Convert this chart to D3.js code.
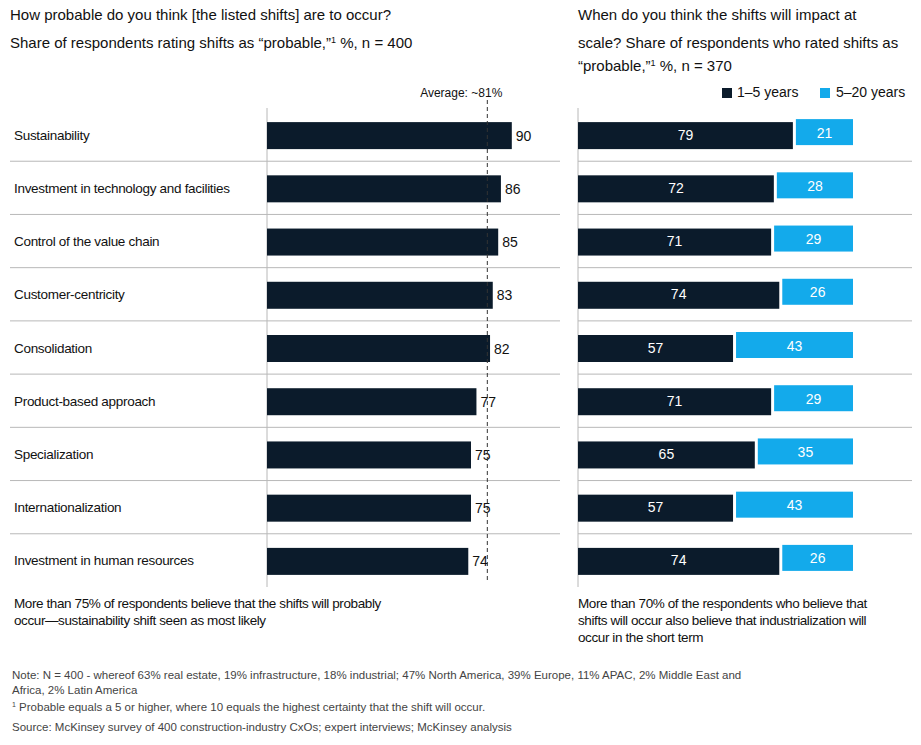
<!DOCTYPE html>
<html><head><meta charset="utf-8">
<script src="https://cdn.jsdelivr.net/npm/d3@7"></script>
<style>
body{margin:0;background:#fff;font-family:"Liberation Sans",Arial,sans-serif;}
text{fill:#111;}
</style></head>
<body><svg id="c" width="921" height="745"></svg>
<script>
const shifts = ['Sustainability','Investment in technology and facilities','Control of the value chain',
  'Customer-centricity','Consolidation','Product-based approach','Specialization',
  'Internationalization','Investment in human resources']
const probable = [90, 86, 85, 83, 82, 77, 75, 75, 74]
const shortTerm = [79, 72, 71, 74, 57, 71, 65, 57, 74]
const longTerm = [21, 28, 29, 26, 43, 29, 35, 43, 26]
const average = 81

const dark = '#0b1b2b', blue = '#13aaeb', grid = '#b8b8b8'
const svg = d3.select('#c')

const y = d3.scaleBand().domain(shifts).range([108, 587]).paddingInner(0).paddingOuter(0)
const barH = 27
const xL = d3.scaleLinear().domain([0, 100]).range([267, 539])
const xR = d3.scaleLinear().domain([0, 100]).range([578, 850])

// titles
const t = (x, yy, s, size) => svg.append('text').attr('x', x).attr('y', yy).attr('font-size', size || 15).text(s)
t(10, 20, 'How probable do you think [the listed shifts] are to occur?')
svg.append('text').attr('x', 10).attr('y', 48).attr('font-size', 15)
  .html('Share of respondents rating shifts as “probable,”<tspan font-size="9" dy="-5">1</tspan><tspan dy="5"> %, n = 400</tspan>')
t(578, 20, 'When do you think the shifts will impact at')
t(578, 48, 'scale? Share of respondents who rated shifts as')
svg.append('text').attr('x', 578).attr('y', 71).attr('font-size', 15)
  .html('“probable,”<tspan font-size="9" dy="-5">1</tspan><tspan dy="5"> %, n = 370</tspan>')

// separators
shifts.slice(1).forEach(s => {
  svg.append('line').attr('x1', 10).attr('x2', 560).attr('y1', y(s)).attr('y2', y(s)).attr('stroke', grid)
  svg.append('line').attr('x1', 578).attr('x2', 912).attr('y1', y(s)).attr('y2', y(s)).attr('stroke', grid)
})
svg.append('line').attr('x1', 267).attr('x2', 267).attr('y1', 108).attr('y2', 587).attr('stroke', grid)
svg.append('line').attr('x1', 578).attr('x2', 578).attr('y1', 108).attr('y2', 587).attr('stroke', grid)

// left bars
const cy = d => y(d) + y.bandwidth() / 2
svg.selectAll('.lb').data(shifts).join('rect')
  .attr('x', xL(0)).attr('y', d => cy(d) - barH / 2 + 1).attr('height', barH)
  .attr('width', (d, i) => xL(probable[i]) - xL(0)).attr('fill', dark)
svg.selectAll('.lv').data(shifts).join('text')
  .attr('x', (d, i) => xL(probable[i]) + 4).attr('y', d => cy(d) + 6).attr('font-size', 14)
  .text((d, i) => probable[i])
svg.selectAll('.ll').data(shifts).join('text')
  .attr('x', 14).attr('y', d => cy(d) + 5).attr('font-size', 13.5).attr('letter-spacing', -0.3).text(d => d)

// average line
svg.append('line').attr('x1', xL(average)).attr('x2', xL(average)).attr('y1', 100).attr('y2', 580)
  .attr('stroke', '#333').attr('stroke-dasharray', '4,3')
svg.append('text').attr('x', xL(average) + 15).attr('y', 97).attr('text-anchor', 'end').attr('font-size', 12).text('Average: ~81%')

// right stacked bars
svg.selectAll('.rd').data(shifts).join('rect')
  .attr('x', xR(0)).attr('y', d => cy(d) - barH / 2 + 1).attr('height', barH)
  .attr('width', (d, i) => xR(shortTerm[i]) - xR(0)).attr('fill', dark)
svg.selectAll('.rdv').data(shifts).join('text')
  .attr('x', (d, i) => (xR(0) + xR(shortTerm[i])) / 2).attr('y', d => cy(d) + 5).attr('text-anchor', 'middle')
  .attr('font-size', 14).style('fill', '#fff').text((d, i) => shortTerm[i])
svg.selectAll('.rb').data(shifts).join('rect')
  .attr('x', (d, i) => xR(shortTerm[i]) + 3).attr('y', d => cy(d) - barH / 2 - 2).attr('height', barH - 1)
  .attr('width', (d, i) => xR(longTerm[i]) - xR(0)).attr('fill', blue)
svg.selectAll('.rbv').data(shifts).join('text')
  .attr('x', (d, i) => xR(shortTerm[i]) + 3 + (xR(longTerm[i]) - xR(0)) / 2).attr('y', d => cy(d) + 3)
  .attr('text-anchor', 'middle').attr('font-size', 14).style('fill', '#fff').text((d, i) => longTerm[i])

// legend
svg.append('rect').attr('x', 722).attr('y', 88).attr('width', 10).attr('height', 10).attr('fill', dark)
t(737, 97, '1–5 years', 14)
svg.append('rect').attr('x', 820).attr('y', 88).attr('width', 10).attr('height', 10).attr('fill', blue)
t(836, 97, '5–20 years', 14)

// takeaways
const ts = {'font-size': 13.5, 'letter-spacing': -0.4}
t(14, 608, 'More than 75% of respondents believe that the shifts will probably', 13.5).attr('letter-spacing', -0.4)
t(14, 625, 'occur—sustainability shift seen as most likely', 13.5).attr('letter-spacing', -0.4)
t(578, 608, 'More than 70% of the respondents who believe that', 13.5).attr('letter-spacing', -0.4)
t(578, 625, 'shifts will occur also believe that industrialization will', 13.5).attr('letter-spacing', -0.4)
t(578, 642, 'occur in the short term', 13.5).attr('letter-spacing', -0.4)

// notes
const nc = '#444'
t(12, 679, 'Note: N = 400 - whereof 63% real estate, 19% infrastructure, 18% industrial; 47% North America, 39% Europe, 11% APAC, 2% Middle East and', 11.5).style('fill', nc)
t(12, 694, 'Africa, 2% Latin America', 11.5).style('fill', nc)
svg.append('text').attr('x', 12).attr('y', 711).attr('font-size', 11.5).style('fill', nc)
  .html('<tspan font-size="7" dy="-4">1</tspan><tspan dy="4"> Probable equals a 5 or higher, where 10 equals the highest certainty that the shift will occur.</tspan>')
t(12, 731, 'Source: McKinsey survey of 400 construction-industry CxOs; expert interviews; McKinsey analysis', 11.5).style('fill', nc)
</script></body></html>
